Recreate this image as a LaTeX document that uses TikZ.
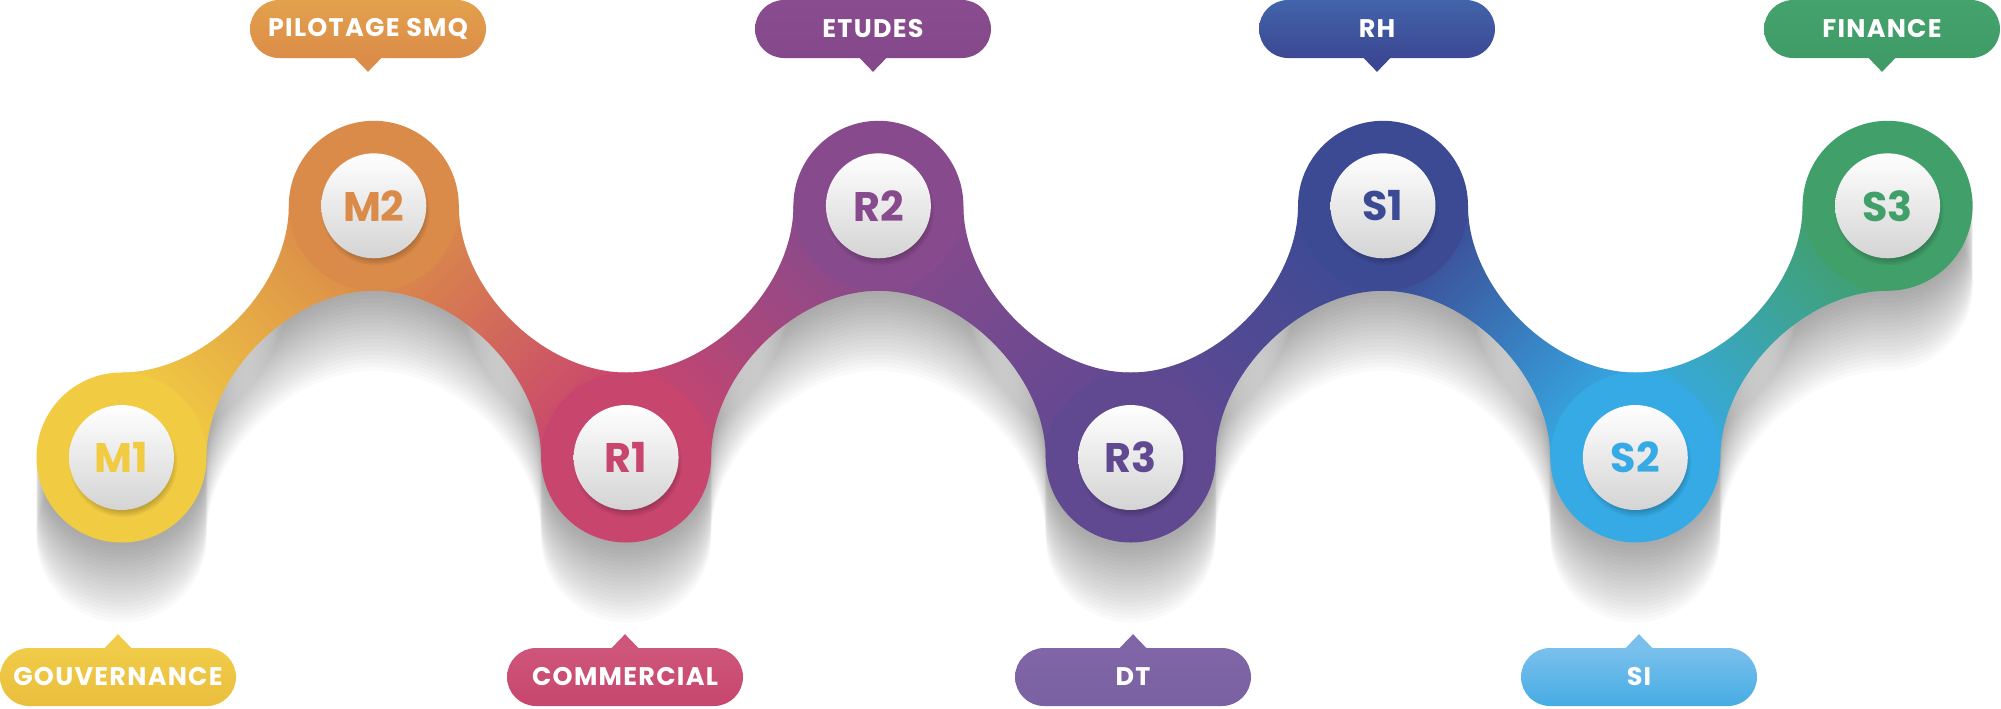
\documentclass[tikz,border=0pt]{standalone}
\usepackage{fontspec}
\setmainfont{Poppins}
\newfontfamily\pillfont{Poppins}[LetterSpace=5]
\usetikzlibrary{positioning,shadows}

\definecolor{cM1}{RGB}{241,204,66}
\definecolor{cM2}{RGB}{219,139,73}
\definecolor{cR1}{RGB}{200,69,110}
\definecolor{cR2}{RGB}{135,74,140}
\definecolor{cR3}{RGB}{97,73,146}
\definecolor{cS1}{RGB}{60,74,148}
\definecolor{cS2}{RGB}{54,170,228}
\definecolor{cS3}{RGB}{65,159,105}
% pill colours (top / bottom)
\definecolor{pM1a}{RGB}{240,204,72}\definecolor{pM1b}{RGB}{234,190,62}
\definecolor{pM2a}{RGB}{227,161,76}\definecolor{pM2b}{RGB}{219,140,72}
\definecolor{pR1a}{RGB}{206,86,122}\definecolor{pR1b}{RGB}{199,70,110}
\definecolor{pR2a}{RGB}{137,76,142}\definecolor{pR2b}{RGB}{133,72,138}
\definecolor{pR3a}{RGB}{128,102,167}\definecolor{pR3b}{RGB}{122,97,162}
\definecolor{pS1a}{RGB}{66,100,170}\definecolor{pS1b}{RGB}{60,72,148}
\definecolor{pS2a}{RGB}{122,192,236}\definecolor{pS2b}{RGB}{70,172,228}
\definecolor{pS3a}{RGB}{68,162,108}\definecolor{pS3b}{RGB}{64,156,103}

% band from a low node (#1) up to a high node (#2)
\newcommand\bandup[3]{\path[#3] (#1,372.5) .. controls +(83,0) and +(0,83) .. (#2-85,205.8)
  -- (#2,290.8) .. controls +(-83,0) and +(0,-83) .. (#1+85,457.5) -- cycle;}
% band from a high node (#1) down to a low node (#2)
\newcommand\banddown[3]{\path[#3] (#1+85,205.8) .. controls +(0,83) and +(-83,0) .. (#2,372.5)
  -- (#2-85,457.5) .. controls +(0,-83) and +(83,0) .. (#1,290.8) -- cycle;}
% the whole snake, every part with the same look
\newcommand\snakeparts[1]{%
  \foreach \i in {0,...,6}{\pgfmathsetmacro\xa{121.5+252.3*\i}\pgfmathsetmacro\xb{\xa+252.3}%
    \ifodd\i\relax\banddown{\xa}{\xb}{#1}\else\bandup{\xa}{\xb}{#1}\fi}%
  \foreach \i in {0,...,7}{\pgfmathsetmacro\xa{121.5+252.3*\i}%
    \ifodd\i\relax\path[#1] (\xa,205.8) circle[radius=85];\else\path[#1] (\xa,457.5) circle[radius=85];\fi}}

\tikzset{
  pill/.style={minimum width=4.72cm,minimum height=1.16cm,rounded corners=0.58cm,inner sep=0pt,
    text=white,font=\pillfont\bfseries\fontsize{14.5}{15}\selectfont},
  stepdisc/.style={circle,minimum size=2.1cm,inner sep=0pt,top color=white,bottom color=black!17,
    font=\bfseries\fontsize{23.5}{24}\selectfont}
}

\begin{document}
\begin{tikzpicture}[x=0.02cm,y=-0.02cm]
  \useasboundingbox (0,0) rectangle (2001,708);
  % soft shadow under the snake
  \foreach \s in {1,...,20}{
    \pgfmathsetmacro\sh{-0.08*\s}
    \begin{scope}[yshift=\sh cm,transparency group,opacity=0.02]
      \snakeparts{fill=black}
    \end{scope}}
  % coloured bands
  \foreach \i/\ca/\cb in {0/cM1/cM2,1/cM2/cR1,2/cR1/cR2,3/cR2/cR3,4/cR3/cS1,5/cS1/cS2,6/cS2/cS3}{
    \pgfmathsetmacro\xa{121.5+252.3*\i}\pgfmathsetmacro\xb{\xa+252.3}
    \ifodd\i\relax \banddown{\xa}{\xb}{top color=\ca,bottom color=\cb,shading angle=45}
    \else \bandup{\xa}{\xb}{top color=\cb,bottom color=\ca,shading angle=-45}\fi}
  % blobs and discs
  \foreach \i/\nm/\c/\lab in {0/m1/cM1/M1,1/m2/cM2/M2,2/r1/cR1/R1,3/r2/cR2/R2,
                              4/r3/cR3/R3,5/s1/cS1/S1,6/s2/cS2/S2,7/s3/cS3/S3}{
    \pgfmathsetmacro\xa{121.5+252.3*\i}
    \ifodd\i\relax \def\yy{205.8}\else \def\yy{457.5}\fi
    \fill[\c] (\xa,\yy) circle[radius=85];
    \node[stepdisc,text=\c,circular drop shadow={shadow xshift=0.03cm,shadow yshift=-0.1cm,
      shadow scale=1.04,fill=\c!55!black,opacity=0.5}] (\nm) at (\xa,\yy) {\lab};
  }
  % labels above
  \foreach \x/\nm/\lab/\ct/\cbt in {368/pilot/PILOTAGE SMQ/pM2a/pM2b,873/etudes/ETUDES/pR2a/pR2b,
                                    1377/rh/RH/pS1a/pS1b,1882/finance/FINANCE/pS3a/pS3b}{
    \node[pill,top color=\ct,bottom color=\cbt] (\nm) at (\x,29) {\lab};
    \fill[\cbt] ([xshift=-0.28cm,yshift=0.02cm]\nm.south) -- ([yshift=-0.27cm]\nm.south)
      -- ([xshift=0.28cm,yshift=0.02cm]\nm.south) -- cycle;
  }
  % labels below
  \foreach \x/\nm/\lab/\ct/\cbt in {118/gouv/GOUVERNANCE/pM1a/pM1b,625/comm/COMMERCIAL/pR1a/pR1b,
                                    1133/dt/DT/pR3a/pR3b,1639/si/SI/pS2a/pS2b}{
    \node[pill,top color=\ct,bottom color=\cbt] (\nm) at (\x,677) {\lab};
    \fill[\ct] ([xshift=-0.28cm,yshift=-0.02cm]\nm.north) -- ([yshift=0.27cm]\nm.north)
      -- ([xshift=0.28cm,yshift=-0.02cm]\nm.north) -- cycle;
  }
\end{tikzpicture}
\end{document}
